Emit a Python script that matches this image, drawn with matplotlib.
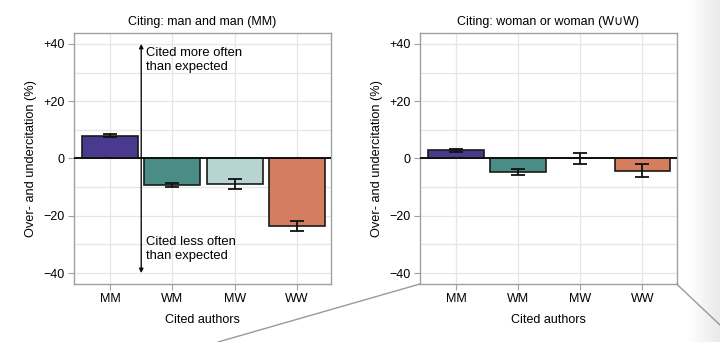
import matplotlib
matplotlib.use("Agg")
import matplotlib.pyplot as plt
import numpy as np
from matplotlib.lines import Line2D
from matplotlib.colors import LinearSegmentedColormap
from matplotlib.ticker import MultipleLocator, FixedLocator

plt.rcParams['font.family'] = ['Liberation Sans', 'DejaVu Sans']
plt.rcParams['font.size'] = 9

# cited author pairs and over-/under-citation (%) with error half-widths
cited = ['MM', 'WM', 'MW', 'WW']
mm_vals = [8.0, -9.3, -8.9, -23.6]
mm_err = [0.5, 0.8, 1.8, 1.7]
ww_vals = [2.8, -4.6, 0.0, -4.2]
ww_err = [0.6, 1.0, 1.8, 2.2]
titles = ['Citing: man and man (MM)', 'Citing: woman or woman (W\u222aW)']
colors = ['#4a3a8d', '#4a8d86', '#b7d4d0', '#d57e5f']
yticks = [-40, -20, 0, 20, 40]
ytick_labels = ['\u221240', '\u221220', '0', '+20', '+40']

fig = plt.figure(figsize=(7.2, 3.42), dpi=100)

# soft page-edge shading on the right
shade = fig.add_axes([0.955, 0, 0.045, 1], zorder=-2)
shade.imshow(np.linspace(0, 1, 64)[None, :], aspect='auto',
             cmap=LinearSegmentedColormap.from_list('edge', ['#ffffff', '#e9e9e9']),
             extent=(0, 1, 0, 1))
shade.axis('off')

ax1 = fig.add_axes([0.1028, 0.1705, 0.357, 0.733])
ax2 = fig.add_axes([0.5833, 0.1705, 0.3565, 0.733])

for ax, vals, errs, title in [(ax1, mm_vals, mm_err, titles[0]),
                              (ax2, ww_vals, ww_err, titles[1])]:
    x = range(len(cited))
    ax.bar(x, vals, width=0.9, color=colors, edgecolor='#1a1a1a',
           linewidth=1.2, zorder=3)
    ax.errorbar(x, vals, yerr=errs, fmt='none', ecolor='#111111',
                elinewidth=1.3, capsize=5, capthick=1.3, zorder=4)
    ax.axhline(0, color='#111111', lw=1.4, zorder=5)
    ax.set_xlim(-0.58, 3.55)
    ax.set_ylim(-43.7, 43.8)
    ax.set_xticks(list(x))
    ax.set_xticklabels(cited)
    ax.yaxis.set_major_locator(FixedLocator(yticks))
    ax.set_yticklabels(ytick_labels)
    ax.yaxis.set_minor_locator(MultipleLocator(10))
    ax.grid(True, which='both', color='#e6e6e6', lw=0.9, zorder=0)
    ax.set_axisbelow(True)
    for s in ax.spines.values():
        s.set_color('#a0a0a0')
        s.set_linewidth(1.0)
    ax.tick_params(which='major', length=4, color='#a0a0a0',
                   labelsize=9, pad=3)
    ax.tick_params(which='minor', length=0)
    ax.set_title(title, fontsize=9, pad=6)
    ax.set_xlabel('Cited authors', fontsize=9, labelpad=6)
    ax.set_ylabel('Over- and undercitation (%)', fontsize=9.2, labelpad=4)

# direction arrow between MM and the rest
ax1.annotate('', xy=(0.5, 40), xytext=(0.5, -40),
             arrowprops=dict(arrowstyle='<|-|>', color='#111111', lw=1.0,
                             mutation_scale=6, shrinkA=0, shrinkB=0),
             zorder=6)
ax1.text(0.57, 38.8, 'Cited more often\nthan expected', va='top', ha='left',
         fontsize=9.4, linespacing=1.15, zorder=6)
ax1.text(0.57, -27.2, 'Cited less often\nthan expected', va='top', ha='left',
         fontsize=9.4, linespacing=1.15, zorder=6)

# zoom guide lines
fig.add_artist(Line2D([0.3028, 0.5833], [0.0, 0.1696],
                      transform=fig.transFigure, color='#9a9a9a', lw=1.0))
fig.add_artist(Line2D([0.9398, 1.0], [0.1696, 0.0497],
                      transform=fig.transFigure, color='#9a9a9a', lw=1.0))

fig.savefig('out.png', dpi=100)
